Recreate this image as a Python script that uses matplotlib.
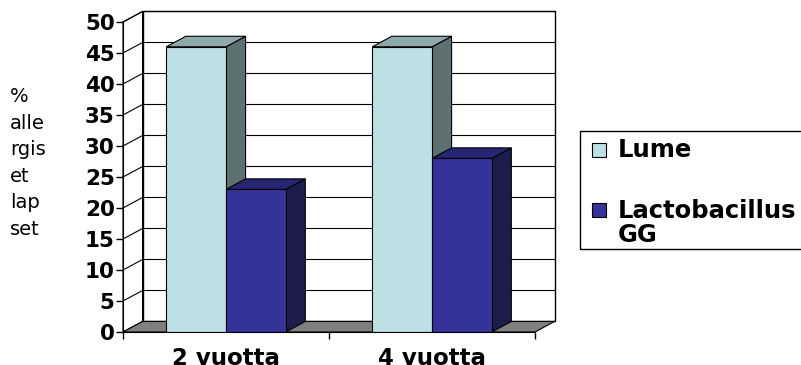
import matplotlib
matplotlib.use('Agg')
import matplotlib.pyplot as plt
from matplotlib.patches import Polygon, Rectangle

# data
categories = ['2 vuotta', '4 vuotta']
series_names = ['Lume', 'Lactobacillus\nGG']
lume = [46, 46]
lacto = [23, 28]
yticks = list(range(0, 51, 5))

plt.rcParams['font.family'] = ['DejaVu Sans']

W, H = 801, 365
fig = plt.figure(figsize=(W / 100, H / 100), dpi=100)

DX = 0.095   # depth of the 3d box, x units
DY = 1.7     # depth of the 3d box, y units
BW = 0.29    # bar width
ax = fig.add_axes([123 / W, 33 / H, 206 * (2 + DX) / W, 6.2 * (50 + DY) / H])
ax.set_xlim(-0.5, 1.5 + DX)
ax.set_ylim(0, 50 + DY)

# walls and floor
ax.add_patch(Rectangle((-0.5 + DX, DY), 2, 50, fc='white', ec='k', lw=1, zorder=0.2, clip_on=False))
ax.add_patch(Polygon([(-0.5, 0), (-0.5 + DX, DY), (-0.5 + DX, 50 + DY), (-0.5, 50)],
                     closed=True, fc='white', ec='k', lw=0.8, zorder=0.2, clip_on=False))
ax.add_patch(Polygon([(-0.5, 0), (1.5, 0), (1.5 + DX, DY), (-0.5 + DX, DY)],
                     closed=True, fc='#808080', ec='k', lw=0.8, zorder=0.3))
for v in yticks[1:]:
    ax.plot([-0.5 + DX, 1.5 + DX], [v + DY, v + DY], color='k', lw=0.8, zorder=0.5, clip_on=False)
    ax.plot([-0.5, -0.5 + DX], [v, v + DY], color='k', lw=0.8, zorder=0.5, clip_on=False)


def bar3d(x0, v, front, top, side):
    x1 = x0 + BW
    ax.add_patch(Polygon([(x1, 0), (x1 + DX, DY), (x1 + DX, v + DY), (x1, v)],
                         closed=True, fc=side, ec='k', lw=0.8, zorder=3))
    ax.add_patch(Polygon([(x0, v), (x1, v), (x1 + DX, v + DY), (x0 + DX, v + DY)],
                         closed=True, fc=top, ec='k', lw=0.8, zorder=3))
    ax.bar(x0, v, BW, align='edge', color=front, ec='k', lw=0.8, zorder=3)


lume_cols = ('#bce0e3', '#8fa9aa', '#5e7172')
lacto_cols = ('#333399', '#262673', '#1d1d4d')
for i in range(len(categories)):
    bar3d(i - BW, lume[i], *lume_cols)
    bar3d(i, lacto[i], *lacto_cols)

# axes
for s in ['top', 'right']:
    ax.spines[s].set_visible(False)
ax.spines['left'].set_bounds(0, 50)
ax.spines['bottom'].set_bounds(-0.5, 1.5)
ax.spines['left'].set_zorder(4)
ax.spines['bottom'].set_zorder(4)
ax.set_yticks(yticks)
ax.set_yticklabels([str(t) for t in yticks], fontsize=15.5, fontweight='bold')
ax.tick_params(axis='y', direction='out', length=5, width=1, pad=1)
ax.set_xticks(range(len(categories)))
ax.set_xticklabels(categories, fontsize=16.5, fontweight='bold')
ax.set_xticks([-0.5, 0.5, 1.5], minor=True)
ax.tick_params(axis='x', which='major', length=0, pad=11)
ax.tick_params(axis='x', which='minor', direction='out', length=5, width=1)

fig.text(10 / W, 1 - 163 / H, '%\nalle\nrgis\net\nlap\nset', ha='left', va='center',
         fontsize=14, linespacing=1.5)

# legend
fig.patches.append(Rectangle((580 / W, 1 - 249 / H), 240 / W, 118 / H, transform=fig.transFigure,
                             fill=False, ec='k', lw=1))
marker_y = [150, 210]
text_y = [150, 223]
for name, col, my, ty in zip(series_names, [lume_cols[0], lacto_cols[0]], marker_y, text_y):
    fig.patches.append(Rectangle((592 / W, 1 - (my + 7) / H), 14 / W, 14 / H,
                                 transform=fig.transFigure, fc=col, ec='k', lw=0.8))
    fig.text(618 / W, 1 - ty / H, name, ha='left', va='center', fontsize=17.5,
             fontweight='bold', linespacing=0.95)

fig.savefig('out.png', dpi=100)
